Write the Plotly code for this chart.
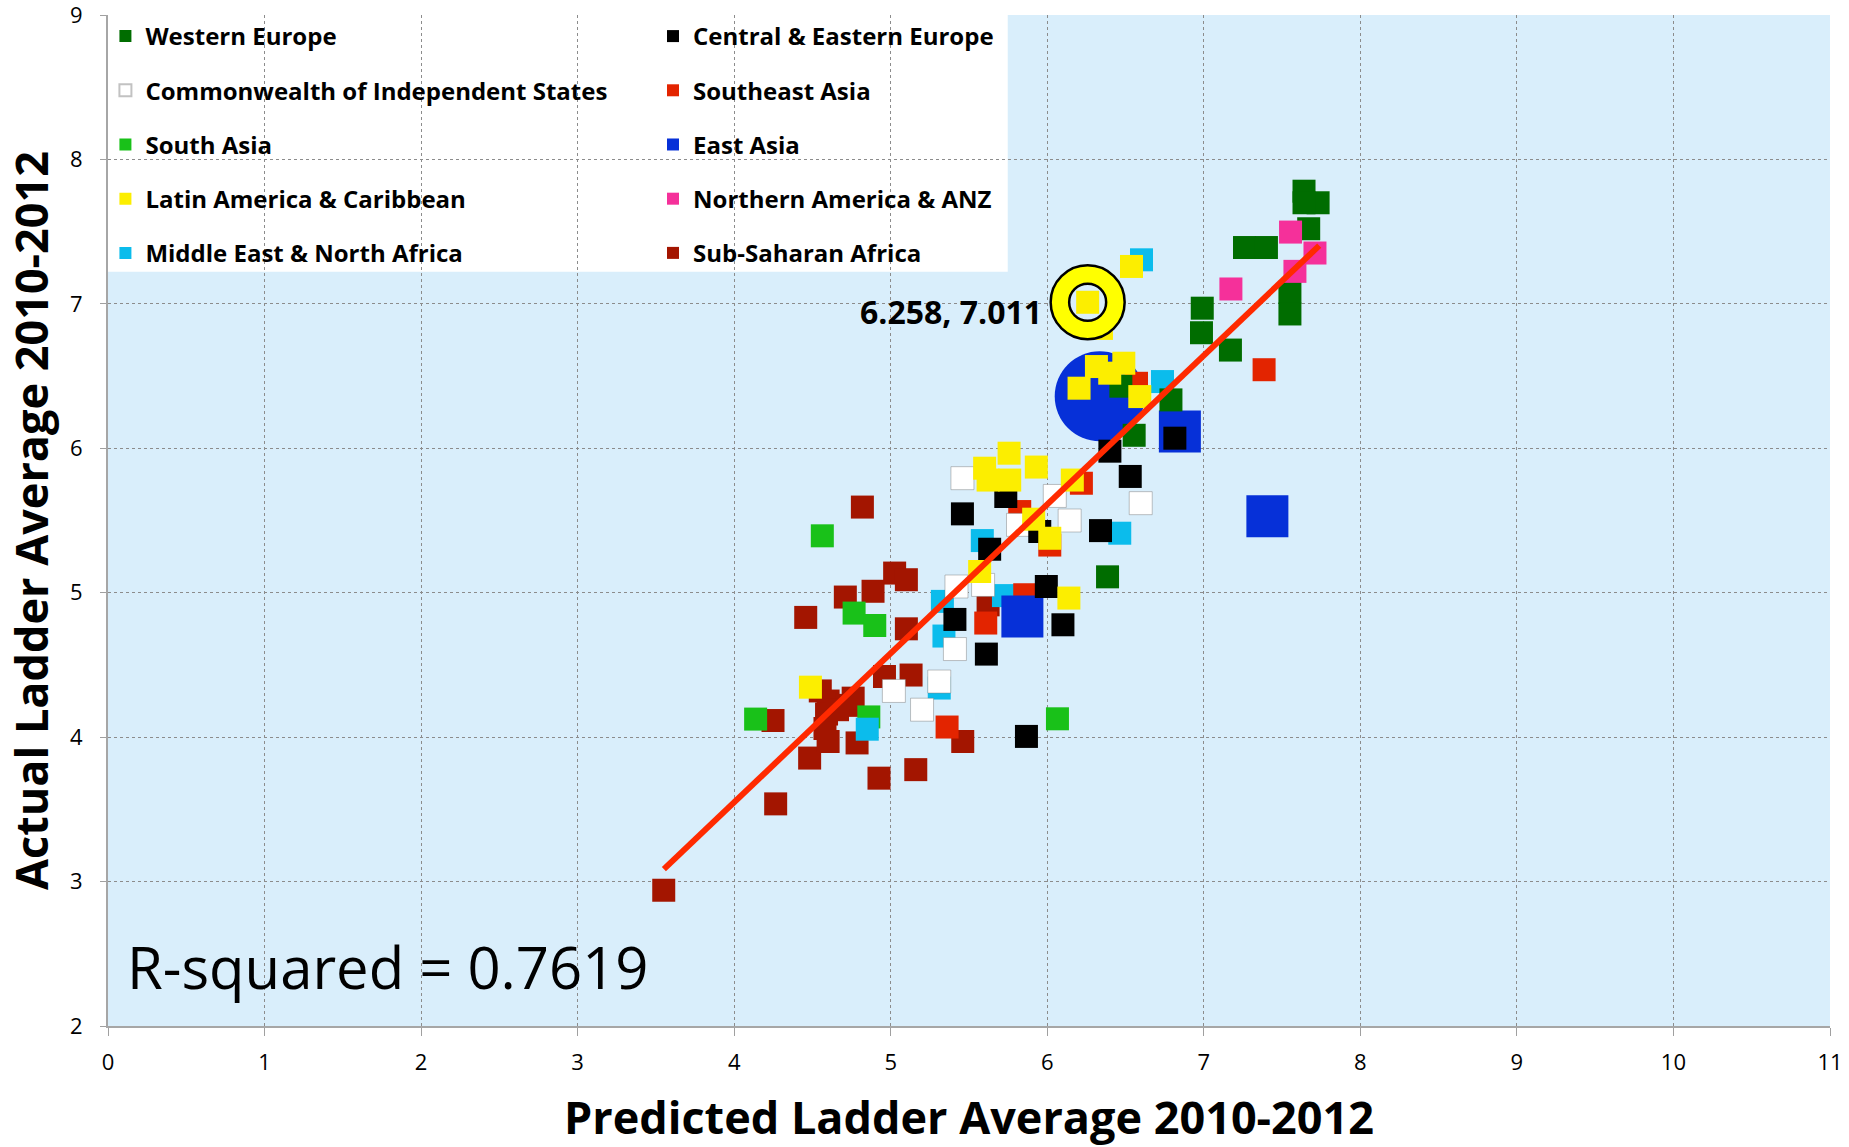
import plotly.graph_objects as go

# ---------------- data ----------------
we_x = [7.64, 7.73, 7.64, 7.67, 7.26, 7.40, 7.55, 7.55, 6.99, 6.985, 7.17, 6.79, 6.47, 6.555, 6.385]
we_y = [7.78, 7.70, 7.70, 7.52, 7.39, 7.39, 7.08, 6.93, 6.97, 6.80, 6.68, 6.335, 6.43, 6.09, 5.11]

cee_x = [6.40, 6.53, 6.815, 6.34, 5.735, 5.458, 5.952, 5.632, 5.994, 6.10, 5.41, 5.611, 5.867]
cee_y = [5.98, 5.805, 6.07, 5.43, 5.666, 5.546, 5.424, 5.301, 5.043, 4.778, 4.815, 4.575, 4.005]

cis_x = [5.458, 6.048, 5.813, 6.143, 6.597, 5.42, 5.59, 5.41, 5.02, 5.31, 5.20]
cis_y = [5.793, 5.67, 5.47, 5.50, 5.62, 5.043, 5.054, 4.61, 4.32, 4.385, 4.19]

sea_x = [7.385, 6.218, 5.824, 6.016, 5.856, 5.607, 5.36, 6.57]
sea_y = [6.544, 5.758, 5.562, 5.33, 4.986, 4.79, 4.07, 6.45]

sa_x = [4.563, 4.766, 4.898, 4.137, 4.86, 6.065]
sa_y = [5.394, 4.859, 4.773, 4.125, 4.14, 4.127]

ea_sq_x = [6.847, 7.406, 5.841]
ea_sq_y = [6.116, 5.529, 4.836]
ea_circle_x = [6.335]
ea_circle_y = [6.36]

lac_x = [6.258, 6.346, 6.538, 6.203, 6.314, 6.399, 6.489, 6.591, 5.756, 5.60, 5.622, 5.76,
         5.93, 6.16, 5.913, 6.016, 5.568, 6.138, 4.487]
lac_y = [7.011, 6.83, 7.259, 6.416, 6.566, 6.52, 6.589, 6.358, 5.966, 5.862, 5.78, 5.78,
         5.87, 5.78, 5.509, 5.377, 5.147, 4.963, 4.346]

nam_x = [7.554, 7.71, 7.582, 7.173]
nam_y = [7.497, 7.352, 7.225, 7.103]

mena_x = [6.602, 6.736, 6.463, 5.585, 5.33, 5.34, 5.31, 4.85, 5.72]
mena_y = [7.305, 6.462, 5.412, 5.361, 4.94, 4.70, 4.34, 4.055, 4.98]

ssa_x = [3.55, 4.265, 4.482, 4.925, 5.16, 4.785, 5.46, 4.248, 4.457, 4.819, 4.71, 4.887,
         5.025, 5.10, 5.10, 4.96, 5.13, 5.622, 4.55, 4.60, 4.59, 4.58, 4.60, 4.72, 4.76, 4.66]
ssa_y = [2.94, 3.538, 3.855, 3.716, 3.775, 3.96, 3.97, 4.115, 4.829, 5.593, 4.97, 5.01,
         5.136, 5.09, 4.75, 4.42, 4.43, 4.916, 4.32, 4.25, 4.16, 4.06, 3.97, 4.22, 4.27, 4.19]

trend_x = [3.551, 7.737]
trend_y = [3.086, 7.403]

highlight_x = 6.258
highlight_y = 7.011
r_squared = 0.7619

x_ticks = list(range(0, 12))
y_ticks = list(range(2, 10))

# ---------------- styling ----------------
FONT = "Open Sans"
BG = "#d9eefb"
SQ = 23

fig = go.Figure()


def add_group(name, xs, ys, color, legend, rank, size=SQ, line=None, symbol="square", showlegend=True, group=None):
    fig.add_trace(go.Scatter(
        x=xs, y=ys, mode="markers", name=name,
        marker=dict(symbol=symbol, size=size, color=color,
                    line=line if line else dict(width=0)),
        legend=legend, legendrank=rank, legendgroup=group or name,
        showlegend=showlegend, hoverinfo="x+y+name"))


add_group("East Asia", ea_circle_x, ea_circle_y, "#0630d8", "legend2", 6, size=90,
          symbol="circle", showlegend=False)
add_group("Sub-Saharan Africa", ssa_x, ssa_y, "#a31500", "legend2", 10)
add_group("South Asia", sa_x, sa_y, "#19c119", "legend", 5)
add_group("Middle East & North Africa", mena_x, mena_y, "#0bbcec", "legend", 9)
add_group("Southeast Asia", sea_x, sea_y, "#e32400", "legend2", 4)
add_group("East Asia", ea_sq_x, ea_sq_y, "#0630d8", "legend2", 6, size=42)
add_group("Commonwealth of Independent States", cis_x, cis_y, "#ffffff", "legend", 3,
          line=dict(width=1, color="rgba(120,120,120,0.45)"))
add_group("Central & Eastern Europe", cee_x, cee_y, "#000000", "legend2", 2)
add_group("Western Europe", we_x, we_y, "#006d00", "legend", 1)
add_group("Latin America & Caribbean", lac_x, lac_y, "#fcee00", "legend", 7)
add_group("Northern America & ANZ", nam_x, nam_y, "#f5309a", "legend2", 8)

# regression line
fig.add_trace(go.Scatter(x=trend_x, y=trend_y, mode="lines",
                         line=dict(color="#ff2a00", width=6), showlegend=False, hoverinfo="skip"))

# highlight ring around one point
fig.add_trace(go.Scatter(x=[highlight_x], y=[highlight_y], mode="markers", showlegend=False,
                         marker=dict(symbol="circle", size=74, color="#ffff00",
                                     line=dict(width=2.5, color="#000000")), hoverinfo="skip"))
fig.add_trace(go.Scatter(x=[highlight_x], y=[highlight_y], mode="markers", showlegend=False,
                         marker=dict(symbol="circle", size=37, color=BG,
                                     line=dict(width=2.5, color="#000000")), hoverinfo="skip"))
fig.add_trace(go.Scatter(x=[highlight_x], y=[highlight_y], mode="markers", showlegend=False,
                         marker=dict(symbol="square", size=SQ, color="#fcee00"), hoverinfo="skip"))

fig.add_annotation(x=highlight_x, y=highlight_y, xref="x", yref="y",
                   text=f"<b>{highlight_x}, {highlight_y}</b>", showarrow=False,
                   xanchor="right", yanchor="middle", xshift=-44, yshift=-9,
                   font=dict(family=FONT, size=32, color="#000"))

fig.add_annotation(x=0.11, y=2.41, xref="x", yref="y", text=f"R-squared = {r_squared}",
                   showarrow=False, xanchor="left", yanchor="middle",
                   font=dict(family=FONT, size=58, color="#000"))

# white legend panel
fig.add_shape(type="rect", xref="paper", yref="paper", x0=0, x1=0.5225, y0=0.746, y1=1,
              fillcolor="#ffffff", line=dict(width=0), layer="between")

legend_common = dict(
    orientation="v", bgcolor="rgba(0,0,0,0)", borderwidth=0,
    font=dict(family=FONT, size=24, color="#000", weight="bold"),
    itemsizing="constant", tracegroupgap=20, yanchor="top", y=1.001, xanchor="left",
)

fig.update_layout(
    width=1849, height=1147,
    paper_bgcolor="#ffffff", plot_bgcolor=BG,
    margin=dict(l=108, r=19, t=15, b=121, autoexpand=False),
    font=dict(family=FONT, color="#000"),
    legend=dict(x=-0.0015, **legend_common),
    legend2=dict(x=0.3165, **legend_common),
    xaxis=dict(range=[0, 11], tickvals=x_ticks, ticks="outside", ticklen=8, tickcolor="#a0a0a0",
               showline=True, linecolor="#a6a6a6", linewidth=2, zeroline=False, automargin=False,
               showgrid=True, gridcolor="#8c8c8c", gridwidth=1, griddash="3px,3px",
               tickfont=dict(family=FONT, size=22, color="#000"), ticklabelstandoff=8,
               ticklabeloverflow="allow",
               title=dict(text="<b>Predicted Ladder Average 2010-2012</b>", standoff=30,
                          font=dict(family=FONT, size=45, color="#000"))),
    yaxis=dict(range=[2, 9], tickvals=y_ticks, ticks="outside", ticklen=6, tickcolor="#a0a0a0",
               showline=True, linecolor="#a6a6a6", linewidth=2, zeroline=False, automargin=False,
               showgrid=True, gridcolor="#8c8c8c", gridwidth=1, griddash="3px,3px",
               tickfont=dict(family=FONT, size=22, color="#000"), ticklabelstandoff=13,
               ticklabeloverflow="allow",
               title=dict(text="<b>Actual Ladder Average 2010-2012</b>", standoff=8,
                          font=dict(family=FONT, size=45, color="#000"))),
)

fig.write_html("out.html", config={"displayModeBar": False},
               post_script="document.body.style.margin='0';")
